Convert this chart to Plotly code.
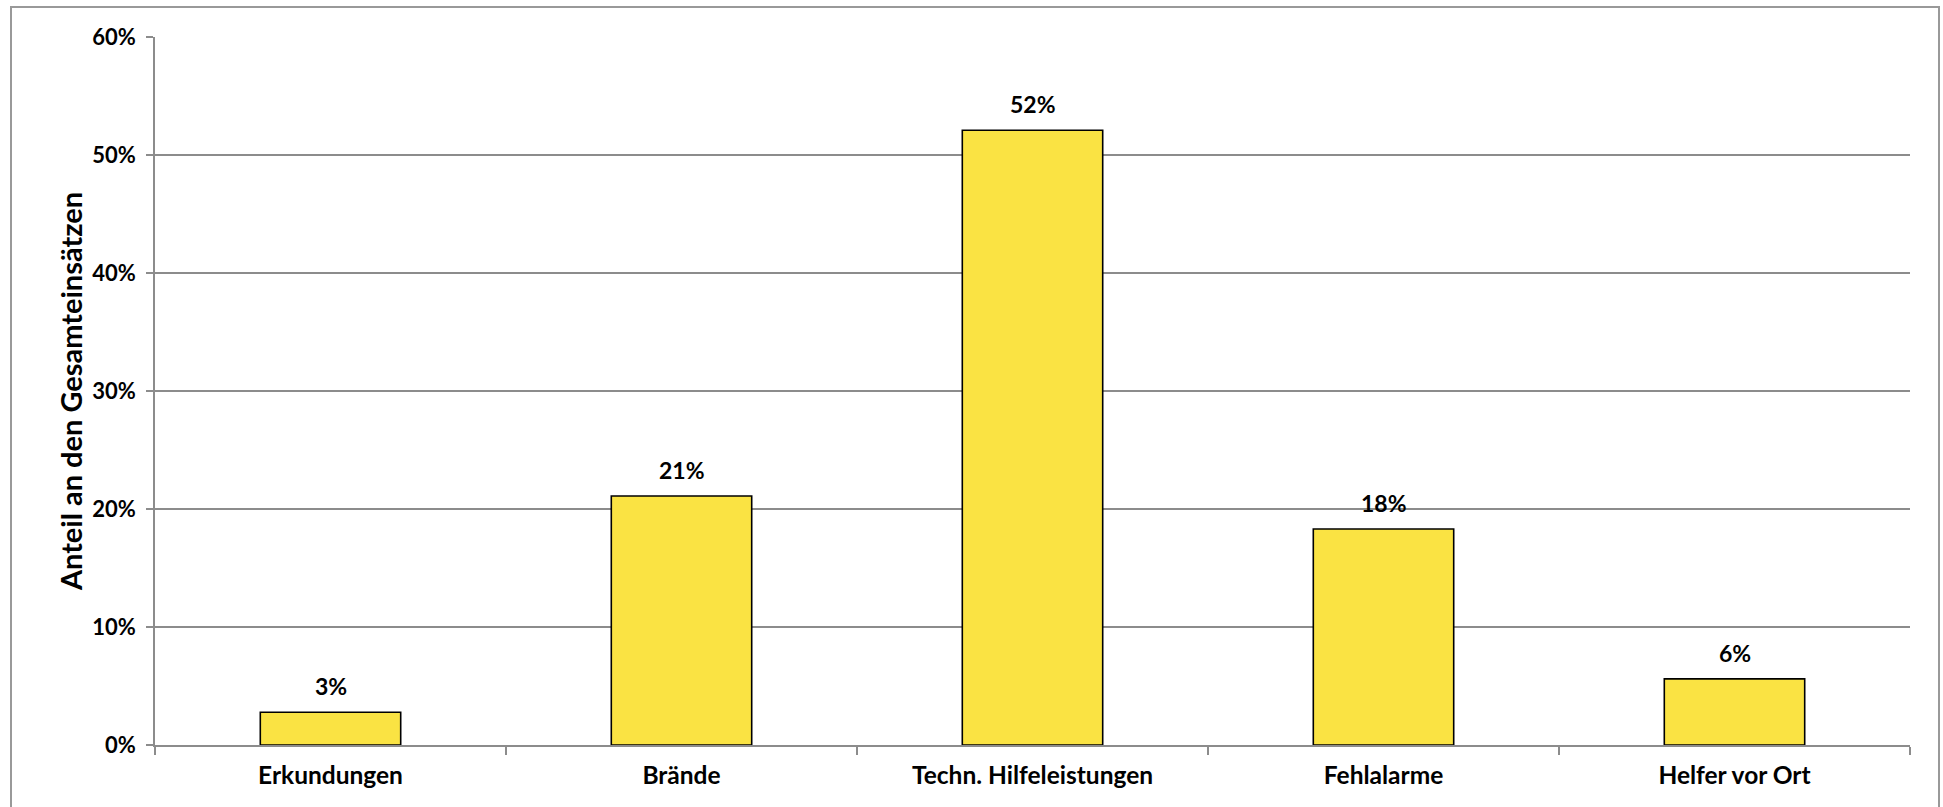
import plotly.graph_objects as go

categories = ["Erkundungen", "Brände", "Techn. Hilfeleistungen", "Fehlalarme", "Helfer vor Ort"]
values = [0.0277, 0.211, 0.521, 0.183, 0.056]
y_ticks = [0, 0.1, 0.2, 0.3, 0.4, 0.5, 0.6]
y_ticklabels = ["0%", "10%", "20%", "30%", "40%", "50%", "60%"]
y_title = "Anteil an den Gesamteinsätzen"

FONT = "Lato, 'Open Sans', sans-serif"
GRID = "#8c8c8c"

fig = go.Figure()
fig.add_trace(go.Bar(
    x=categories, y=values,
    marker=dict(color="#FAE343", line=dict(color="#000000", width=1.6)),
    width=0.4,
    hoverinfo="skip",
))

for c, v in zip(categories, values):
    fig.add_annotation(
        x=c, y=v, text=f"<b>{v:.0%}</b>", showarrow=False,
        yanchor="middle", yshift=26,
        font=dict(family=FONT, size=23, color="#000000"),
    )

W, H = 1943, 807
ml, mr, mt, mb = 155, 33, 37, 62
pw, ph = W - ml - mr, H - mt - mb

def px(xs):
    return (xs - ml) / pw

def py(ys):
    return (H - mb - ys) / ph

# outer chart border
fig.add_shape(
    type="rect", xref="paper", yref="paper",
    x0=px(11), x1=px(1939), y0=py(840), y1=py(7),
    line=dict(color="#999999", width=2), fillcolor="rgba(0,0,0,0)", layer="below",
)

fig.update_layout(
    width=W, height=H,
    margin=dict(l=ml, r=mr, t=mt, b=mb, autoexpand=False),
    paper_bgcolor="white", plot_bgcolor="white",
    showlegend=False,
    font=dict(family=FONT, color="#000000"),
)
fig.update_xaxes(
    type="category",
    showline=True, linecolor=GRID, linewidth=1.5,
    ticks="outside", tickson="boundaries", ticklen=8, tickcolor=GRID, tickwidth=1.5,
    tickfont=dict(family=FONT, size=24.5, color="#000000", weight="bold"),
    showgrid=False,
    ticklabelstandoff=8,
)
fig.update_yaxes(
    range=[0, 0.6],
    tickvals=y_ticks, ticktext=y_ticklabels,
    showline=True, linecolor=GRID, linewidth=1.5,
    ticks="outside", ticklen=7, tickcolor=GRID, tickwidth=1.5,
    tickfont=dict(family=FONT, size=22, color="#000000", weight="bold"),
    showgrid=True, gridcolor=GRID, gridwidth=1.5,
    zeroline=False,
    ticklabelstandoff=6,
    title=dict(text=y_title, standoff=1,
               font=dict(family=FONT, size=29, color="#000000", weight="bold")),
)

fig.write_html(
    "out.html",
    config={"displayModeBar": False},
    post_script="document.body.style.margin='0px';document.body.style.overflow='hidden';",
)
